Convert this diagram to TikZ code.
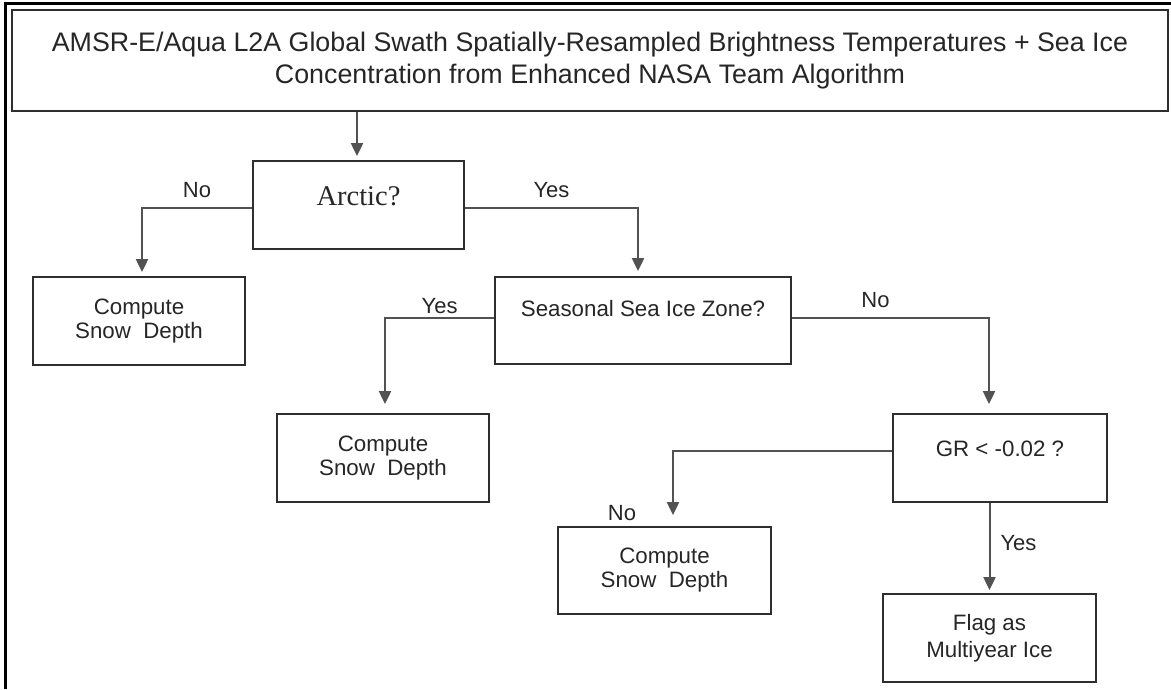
\documentclass[tikz,border=0pt]{standalone}
\usepackage{fontspec}
\setmainfont{Liberation Sans}
\newfontfamily\arcticserif{Liberation Serif}
\usetikzlibrary{arrows.meta}
\begin{document}
\begin{tikzpicture}[x=1pt,y=-1pt,
  box/.style={draw=black!82, line width=1.8pt, rectangle, inner sep=3pt, text=black!85,
              font=\fontsize{22.3}{24}\selectfont},
  mbox/.style={box, align=center},
  conn/.style={draw=black!68, line width=2pt, -{Triangle[width=12pt,length=13pt]}, shorten >=4pt},
  lbl/.style={font=\fontsize{22}{24}\selectfont, text=black!85, inner sep=0pt}
]
\useasboundingbox (0,0) rectangle (1171,689);
\fill[white] (0,0) rectangle (1171,689);
\draw[line width=3.3pt] (5.8,689) -- (5.8,3.3) -- (1171,3.3);

% boxes
\node[mbox, minimum width=1156pt, minimum height=101pt, font=\fontsize{26.8}{32.5}\selectfont] (title) at (590,60.5)
  {AMSR-E/Aqua L2A Global Swath Spatially-Resampled Brightness Temperatures + Sea Ice\\Concentration from Enhanced NASA Team Algorithm};
\node[box, minimum width=211pt, minimum height=88pt, font=\arcticserif\fontsize{28.5}{30}\selectfont,
      text height=19pt, text depth=19pt] (arctic) at (358.5,205) {Arctic?};
\node[box, minimum width=296pt, minimum height=87pt, text height=16pt, text depth=23.6pt] (ssiz) at (643,320.5) {Seasonal Sea Ice Zone?};
\node[box, minimum width=214pt, minimum height=88pt, text height=16pt, text depth=18.6pt] (gr) at (1000,458) {GR < -0.02 ?};
\node[mbox, minimum width=212pt, minimum height=88pt] (comp1) at (139,321) {Compute\\Snow~ Depth};
\node[mbox, minimum width=212pt, minimum height=88pt] (comp2) at (383,458) {Compute\\Snow~ Depth};
\node[mbox, minimum width=213pt, minimum height=87pt] (comp3) at (664.5,570.5) {Compute\\Snow~ Depth};
\node[mbox, minimum width=213pt, minimum height=88pt, font=\fontsize{22.3}{27}\selectfont] (flag) at (989.5,638) {Flag as\\Multiyear Ice};

% connectors
\draw[conn] ([xshift=-1.5pt]arctic.north |- title.south) -- ([xshift=-1.5pt]arctic.north);
\draw[conn] ([yshift=-3pt]arctic.west) -| node[lbl, pos=0.25, above=9.5pt] (lno1) {No} ([xshift=3pt]comp1.north);
\draw[conn, shorten >=5pt] ([yshift=-3pt]arctic.east) -| node[lbl, pos=0.25, above=9pt] (lyes1) {Yes} ([xshift=-5pt]ssiz.north);
\draw[conn, shorten >=9pt] ([yshift=2.5pt]ssiz.west) -| node[lbl, pos=0.25, above=3pt] (lyes2) {Yes} ([xshift=2pt]comp2.north);
\draw[conn, shorten >=9pt] ([yshift=2.5pt]ssiz.east) -| node[lbl, pos=0.25, above=9.5pt, xshift=-15pt] (lno2) {No} ([xshift=-11pt]gr.north);
\draw[conn, shorten >=11pt] ([yshift=7pt]gr.west) -| node[lbl, pos=1, xshift=-51pt, yshift=13pt] (lno3) {No} ([xshift=8.5pt]comp3.north);
\draw[conn, shorten >=3pt] ([xshift=-10.5pt]gr.south) -- node[lbl, pos=0.45, right=10pt] (lyes3) {Yes} (flag.north);
\end{tikzpicture}
\end{document}
